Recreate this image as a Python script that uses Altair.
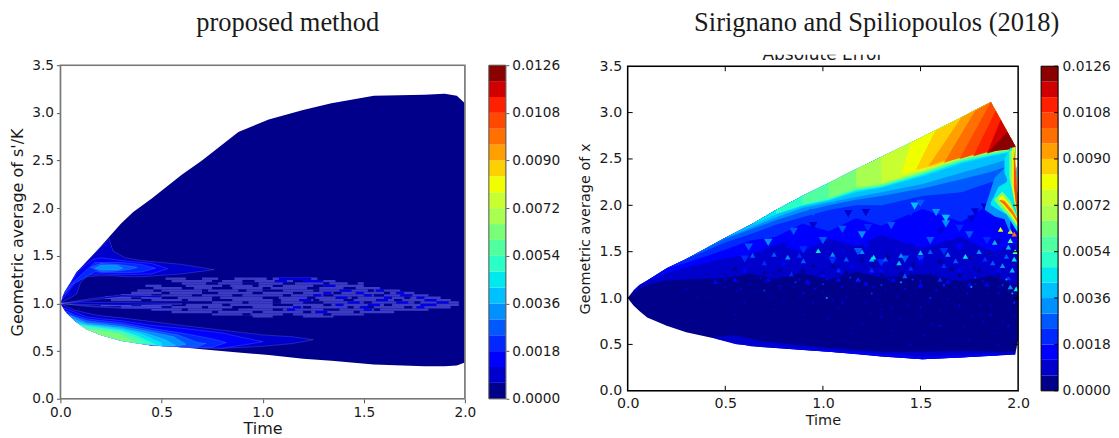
import altair as alt
import pandas as pd

# ---------- shared colour levels ----------
level_lo = [0.0000,0.0006,0.0012,0.0018,0.0024,0.0030,0.0036,0.0042,0.0048,0.0054,0.0060,
            0.0066,0.0072,0.0078,0.0084,0.0090,0.0096,0.0102,0.0108,0.0114,0.0120]
level_hi = [0.0006,0.0012,0.0018,0.0024,0.0030,0.0036,0.0042,0.0048,0.0054,0.0060,0.0066,
            0.0072,0.0078,0.0084,0.0090,0.0096,0.0102,0.0108,0.0114,0.0120,0.0126]
level_colors = ["#00008b","#0000cd","#0000ff","#0028ff","#0058ff","#0090ff","#00c0ff",
                "#00e8f0","#2bffc8","#50ffa0","#78ff78","#a8ff50","#c8ff30","#f0ff00",
                "#ffd000","#ffa000","#ff7000","#ff4800","#ff2000","#d00000","#8b0000"]
texture_color = "#3d3dc4"
bar_ticks = [0.0000,0.0018,0.0036,0.0054,0.0072,0.0090,0.0108,0.0126]
x_ticks = [0.0,0.5,1.0,1.5,2.0]
y_ticks = [0.0,0.5,1.0,1.5,2.0,2.5,3.0,3.5]

# ---------- left panel: outline and level regions (t, low, high) ----------
left_t  = [0,.02,.05,.08,.13,.2,.3,.36,.45,.6,.7,.88,1.03,1.2,1.34,1.55,1.8,1.9,1.96,2.0]
left_hi = [1,1.12,1.22,1.33,1.44,1.60,1.84,1.96,2.10,2.35,2.5,2.8,2.93,3.03,3.10,3.18,3.19,3.2,3.18,3.1]
left_lo = [1,.93,.86,.80,.73,.67,.61,.59,.56,.54,.52,.485,.46,.42,.40,.36,.34,.34,.35,.38]

left_low_wedge = [
 (1,[(0,1,1),(.03,.90,.97),(.07,.82,.93),(.13,.73,.90),(.2,.67,.87),(.3,.61,.85),(.45,.56,.81),(.6,.54,.77),(.8,.53,.72),(1.0,.55,.67),(1.15,.58,.65),(1.25,.62,.62)]),
 (2,[(.02,.93,.95),(.07,.82,.91),(.13,.73,.86),(.2,.67,.84),(.3,.61,.82),(.45,.56,.77),(.6,.54,.74),(.8,.53,.69),(.95,.58,.62),(1.0,.6,.6)]),
 (3,[(.03,.9,.92),(.07,.82,.88),(.13,.73,.84),(.2,.67,.82),(.3,.61,.80),(.45,.56,.74),(.6,.54,.69),(.75,.54,.63),(.82,.59,.59)]),
 (4,[(.04,.88,.89),(.07,.82,.86),(.13,.73,.82),(.2,.67,.80),(.3,.61,.78),(.45,.565,.72),(.58,.55,.67),(.68,.55,.59),(.72,.58,.58)]),
 (5,[(.05,.86,.87),(.13,.73,.80),(.2,.67,.785),(.3,.61,.76),(.45,.565,.70),(.56,.55,.65),(.62,.57,.575)]),
 (6,[(.06,.84,.84),(.13,.73,.785),(.2,.67,.77),(.3,.61,.745),(.42,.57,.69),(.52,.55,.62),(.57,.56,.56)]),
 (7,[(.08,.80,.80),(.13,.73,.775),(.2,.67,.76),(.3,.61,.73),(.4,.575,.68),(.5,.56,.585)]),
 (8,[(.09,.78,.78),(.13,.73,.765),(.2,.67,.745),(.3,.61,.715),(.38,.58,.66),(.47,.565,.57)]),
 (9,[(.11,.75,.76),(.2,.67,.73),(.3,.61,.70),(.38,.585,.63),(.42,.59,.59)]),
 (10,[(.13,.73,.73),(.2,.67,.715),(.3,.615,.675),(.36,.595,.6)]),
]
left_up_wedge = [
 (1,[(0,1,1),(.02,1.03,1.12),(.05,1.06,1.22),(.08,1.10,1.33),(.1,1.22,1.37),(.13,1.28,1.44),(.2,1.29,1.59),(.24,1.29,1.68),(.26,1.29,1.55),(.32,1.28,1.48),(.4,1.28,1.45),(.6,1.31,1.41),(.76,1.355,1.355)]),
 (2,[(.01,1.05,1.07),(.03,1.1,1.15),(.06,1.18,1.25),(.09,1.27,1.34),(.12,1.31,1.40),(.16,1.30,1.46),(.2,1.31,1.48),(.3,1.30,1.45),(.45,1.31,1.42),(.53,1.365,1.365)]),
 (3,[(.02,1.1,1.11),(.04,1.14,1.17),(.06,1.2,1.22),(.17,1.33,1.43),(.3,1.32,1.43),(.4,1.33,1.41),(.47,1.37,1.37)]),
 (4,[(.15,1.38,1.38),(.2,1.33,1.42),(.28,1.34,1.41),(.35,1.36,1.39),(.38,1.38,1.38)]),
 (5,[(.17,1.37,1.37),(.2,1.35,1.40),(.28,1.35,1.40),(.31,1.37,1.37)]),
]
left_fan = [
 (1,[(0,1,1),(.15,1.035,1.05),(.3,1.07,1.09),(.5,1.06,1.08)]),
 (1,[(0,1,1),(.15,.965,.975),(.3,.95,.96),(.55,.94,.95)]),
 (1,[(0,1,1),(.1,.99,1.015),(.3,.98,1.01),(.6,.99,1.0)]),
]
# texture rows: y centre, then spans of time
left_rows = [
 (1.26,[(.52,.62),(.70,.78),(.86,1.02),(1.05,1.27)]),
 (1.235,[(.55,.75),(.80,1.36)]),
 (1.21,[(.60,.90),(.98,1.42),(1.47,1.50)]),
 (1.185,[(.42,.50),(.62,1.05),(1.1,1.5)]),
 (1.16,[(.46,.75),(.85,1.22),(1.28,1.58)]),
 (1.135,[(.38,.46),(.5,1.0),(1.1,1.68)]),
 (1.11,[(.35,.7),(.78,1.15),(1.2,1.75)]),
 (1.085,[(.3,.65),(.7,1.3),(1.35,1.82)]),
 (1.06,[(.22,.5),(.58,1.0),(1.08,1.88)]),
 (1.035,[(.25,.75),(.85,1.4),(1.45,1.93)]),
 (1.01,[(.75,1.2),(1.3,1.97)]),
 (.985,[(.2,.55),(.62,1.05),(1.15,1.97)]),
 (.96,[(.3,.85),(.95,1.5),(1.55,1.93)]),
 (.935,[(.45,.8),(.88,1.3),(1.38,1.82)]),
 (.91,[(.55,.95),(1.0,1.65)]),
 (.885,[(.75,1.1),(1.15,1.5)]),
 (.865,[(.95,1.05),(1.2,1.35)]),
]
left_gap_rows = [
 (1.235,[(.9,.96),(1.15,1.2)]),(1.21,[(.72,.78),(1.1,1.16),(1.3,1.33)]),
 (1.185,[(.8,.84),(.95,.98),(1.25,1.3)]),(1.16,[(.6,.66),(1.0,1.04),(1.4,1.46)]),
 (1.135,[(.7,.73),(.88,.92),(1.25,1.28),(1.52,1.55)]),(1.11,[(.5,.54),(.95,1.0),(1.35,1.39),(1.6,1.63)]),
 (1.085,[(.45,.5),(.85,.9),(1.1,1.14),(1.55,1.6)]),(1.06,[(.35,.4),(.75,.79),(1.22,1.26),(1.44,1.47),(1.7,1.73)]),
 (1.035,[(.4,.45),(.6,.63),(1.05,1.09),(1.25,1.28),(1.65,1.69)]),(1.01,[(.9,.93),(1.05,1.09),(1.5,1.54),(1.75,1.78)]),
 (.985,[(.35,.4),(.8,.84),(1.3,1.34),(1.6,1.64)]),(.96,[(.5,.55),(.7,.73),(1.2,1.24),(1.42,1.45),(1.7,1.74)]),
 (.935,[(.6,.63),(1.05,1.1),(1.55,1.58)]),(.91,[(.75,.78),(1.2,1.24),(1.45,1.48)]),(.885,[(.9,.94),(1.3,1.34)]),
]
left_blue_rows = [
 (1.26,[(1.08,1.24)]),(1.235,[(1.06,1.12),(1.2,1.3)]),(1.185,[(1.3,1.36)]),
 (1.135,[(1.38,1.44),(1.56,1.6)]),(1.11,[(1.3,1.34),(1.46,1.5),(1.66,1.7)]),
 (1.085,[(1.25,1.29),(1.5,1.54),(1.68,1.74)]),(1.06,[(1.36,1.42),(1.6,1.64),(1.76,1.8)]),
 (1.035,[(1.18,1.24),(1.56,1.62),(1.8,1.86)]),(1.01,[(1.42,1.48),(1.66,1.72),(1.86,1.92)]),
 (.985,[(1.36,1.4),(1.52,1.58),(1.78,1.86)]),(.96,[(1.15,1.19),(1.48,1.52),(1.76,1.8)]),
 (.935,[(1.12,1.16),(1.5,1.54)]),(.91,[(1.26,1.32)]),
]

# ---------- right panel: outline and level curves ----------
right_t  = [0,.03,.06,.1,.2,.3,.5,.63,.76,.895,1.03,1.17,1.3,1.51,1.71,1.86,1.985,2.0]
right_hi = [1,1.08,1.14,1.19,1.32,1.42,1.65,1.79,1.95,2.10,2.24,2.39,2.52,2.74,2.95,3.115,2.64,1.85]
right_lo = [1,.92,.86,.79,.70,.63,.54,.48,.46,.44,.42,.40,.37,.34,.36,.38,.39,.55]
# level, first station index, lower boundary from that station on
right_curves = [
 (1,1,[1.06,1.10,1.14,1.19,1.20,1.22,1.26,1.21,1.27,1.20,1.28,1.22,1.26,1.18,1.24,1.15,1.10]),
 (2,3,[1.19,1.27,1.33,1.43,1.47,1.58,1.50,1.64,1.56,1.68,1.54,1.66,1.50,1.58,1.45]),
 (3,4,[1.32,1.38,1.52,1.62,1.66,1.80,1.72,1.86,1.78,1.96,1.82,2.02,1.80,1.85]),
 (4,5,[1.42,1.60,1.69,1.79,1.87,1.95,2.0,2.0,2.10,2.14,2.25,2.30,1.85]),
 (5,5,[1.42,1.64,1.74,1.84,1.93,2.0,2.06,2.10,2.18,2.28,2.36,2.45,1.85]),
 (6,6,[1.65,1.76,1.87,1.97,2.03,2.09,2.14,2.23,2.35,2.44,2.52,1.85]),
]
right_top_curves = [
 (7,7,[1.79,1.90,1.99,2.05,2.14,2.19,2.31,2.45,2.53,2.58,1.85]),
 (8,8,[1.91,2.0,2.06,2.16,2.20,2.33,2.47,2.54,2.59]),
 (9,9,[2.01,2.07,2.17,2.21,2.34,2.48,2.55,2.60]),
 (10,10,[2.08,2.18,2.22,2.35,2.49,2.56,2.605]),
 (11,11,[2.19,2.23,2.36,2.50,2.57,2.61]),
 (12,12,[2.24,2.37,2.51,2.58,2.615]),
]
right_wedge = [
 (13,[(1.40,2.33,2.33),(1.45,2.36,2.67),(1.51,2.39,2.74),(1.71,2.52,2.95),(1.86,2.59,3.115),(1.985,2.62,2.64)]),
 (14,[(1.475,2.38,2.38),(1.575,2.43,2.80),(1.71,2.53,2.95),(1.86,2.6,3.115),(1.985,2.62,2.64)]),
 (15,[(1.54,2.42,2.42),(1.71,2.55,2.95),(1.86,2.61,3.115),(1.985,2.625,2.64)]),
 (16,[(1.62,2.46,2.46),(1.78,2.56,3.02),(1.86,2.62,3.115),(1.985,2.63,2.64)]),
 (17,[(1.70,2.5,2.5),(1.86,2.6,3.115),(1.985,2.63,2.64)]),
 (18,[(1.77,2.53,2.53),(1.885,2.6,3.02),(1.985,2.63,2.64)]),
 (19,[(1.84,2.56,2.56),(1.91,2.6,2.92),(1.985,2.63,2.64)]),
 (20,[(1.85,2.58,2.58),(1.945,2.6,2.79),(1.985,2.62,2.64)]),
]
right_edge = [
 (5,[(1.83,1.95,1.97),(1.88,1.88,2.3),(1.93,1.85,2.4),(1.96,1.7,2.35)]),
 (7,[(1.86,2.0,2.03),(1.9,1.95,2.2),(1.94,1.9,2.25),(1.97,1.8,2.45),(2.0,1.7,1.85)]),
 (7,[(1.93,2.35,2.5),(1.96,2.2,2.62),(1.985,2.1,2.62)]),
 (10,[(1.88,2.05,2.07),(1.92,1.95,2.15),(1.96,1.87,2.05),(2.0,1.75,1.85)]),
 (10,[(1.955,2.3,2.58),(1.985,2.0,2.62),(2.0,1.85,1.85)]),
 (13,[(1.9,2.06,2.08),(1.92,2.0,2.11),(1.96,1.9,2.0),(2.0,1.78,1.85)]),
 (13,[(1.97,2.2,2.62),(1.985,2.0,2.63),(2.0,1.85,1.85)]),
 (16,[(1.905,2.05,2.06),(1.93,2.0,2.05),(1.97,1.9,1.95),(2.0,1.8,1.84)]),
 (17,[(1.978,2.2,2.62),(1.992,1.95,2.3),(2.0,1.85,1.85)]),
 (1,[(.45,.56,.58),(.55,.505,.6),(.7,.47,.53),(1.03,.42,.46),(1.3,.37,.42),(1.51,.34,.42),(1.71,.36,.43),(1.9,.38,.42),(1.985,.39,.42)]),
 (2,[(.55,.505,.51),(1.03,.42,.435),(1.51,.34,.37),(1.9,.38,.395)]),
]
# speckles: level -> points, split by patch class
big_patches = {
 1:[(1.13,1.91),(1.3,1.6),(1.09,1.55),(1.45,1.55),(.95,1.78),(1.78,1.93),(1.22,1.92),(1.64,1.58),(.8,1.56),
    (1.76,1.85),(1.83,1.98),(1.0,1.45),(1.35,1.5),(1.6,1.72),(.72,1.42),(1.9,1.6),(1.16,1.4),(1.52,1.36),(1.75,1.38),(.88,1.36)],
 2:[(.98,1.7),(1.42,1.72),(1.7,1.55),(1.22,1.56),(.68,1.52),(1.58,1.75),(1.88,1.75)],
 3:[(1.45,1.92),(1.1,1.83),(1.7,1.75),(.6,1.42),(1.23,1.76),(.9,1.52),(1.5,1.42),(1.05,1.4),(1.3,1.38),(1.62,1.5),(1.84,1.62)],
 4:[(1.1,1.74),(.85,1.72),(1.35,1.78),(1.0,1.62),(1.55,1.62),(1.75,1.68),(.62,1.55),(1.5,2.02),(.95,1.92),(1.18,1.5),(1.42,1.42)],
 5:[(1.63,1.8),(1.2,1.68),(.72,1.6),(1.58,1.92)],
 6:[(1.63,1.86),(1.47,1.99)],
}
small_patches = {
 0:[(1.05,1.35),(1.2,1.42),(1.4,1.28),(1.6,1.4),(1.8,1.3),(.9,1.3),(.7,1.28),(.55,1.32),(1.55,1.25),(1.85,1.5),(1.0,1.28),(1.3,1.25),(1.7,1.25),
    (.62,1.26),(.78,1.3),(.95,1.36),(1.12,1.28),(1.26,1.36),(1.46,1.36),(1.66,1.32),(1.9,1.25),(1.76,1.44),(1.33,1.46)],
 2:[(.45,1.18),(.6,1.3),(.8,1.38),(1.0,1.25),(1.15,1.35),(1.3,1.3),(1.5,1.4),(1.7,1.3),(1.9,1.3),(1.75,1.15),
    (.55,1.2),(.72,1.2),(.92,1.18),(1.08,1.2),(1.22,1.16),(1.36,1.2),(1.5,1.14),(1.64,1.18),(1.84,1.15)],
 3:[(.7,1.38),(.88,1.46),(1.08,1.3),(1.25,1.3),(1.45,1.32),(1.62,1.35),(1.83,1.42),(1.95,1.22),(1.6,1.2),(1.18,1.2),(.84,1.26)],
 4:[(.64,1.46),(.75,1.47),(.9,1.4),(1.12,1.42),(1.32,1.42),(1.55,1.5),(1.68,1.4),(1.87,1.38),(1.94,1.45),(1.42,1.24)],
 5:[(.82,1.44),(1.05,1.47),(1.2,1.5),(1.4,1.46),(1.64,1.47),(1.8,1.5),(1.92,1.35),(1.96,1.12)],
 6:[(1.5,1.49),(1.39,1.38),(1.25,1.42),(1.95,1.55),(1.97,1.3),(1.88,1.6)],
 7:[(1.73,1.45),(.976,1.51),(1.26,1.44),(1.98,1.42),(1.99,1.1)],
 9:[(1.96,1.62),(1.985,1.5)],
 13:[(1.91,1.74),(1.96,1.72)],
 16:[(1.98,1.69)],
}
tiny_patches = {
 0:[(.5,1.26),(.62,1.24),(.75,1.27),(.85,1.25),(.95,1.24),(1.07,1.26),(1.2,1.25),(1.33,1.27),(1.45,1.25),(1.58,1.26),(1.72,1.27),(1.85,1.25),(1.95,1.24),
    (.4,1.25),(.68,1.31),(.82,1.3),(1.12,1.29),(1.38,1.32),(1.65,1.31),(1.78,1.33),(1.92,1.31)],
 1:[(.3,1.1),(.42,1.02),(.5,1.12),(.6,.95),(.65,1.06),(.7,1.18),(.75,.88),(.8,1.0),(.85,1.12),(.9,.82),(.95,.95),(1.0,1.07),
    (1.03,.78),(1.08,.9),(1.12,1.02),(1.16,1.15),(1.2,.72),(1.24,.84),(1.28,.98),(1.32,1.09),(1.36,.65),(1.4,.78),(1.44,.92),
    (1.48,1.05),(1.52,.6),(1.56,.72),(1.6,.86),(1.64,.99),(1.68,1.11),(1.72,.68),(1.76,.8),(1.8,.93),(1.84,1.05),(1.88,.62),
    (1.92,.75),(1.95,.88),(1.97,1.0),(.55,.82),(1.15,.62),(1.35,.9),(1.75,.55),(1.9,.5),(1.45,.5),(1.1,.55),
    (.36,1.0),(.47,1.16),(.56,1.07),(.63,1.15),(.73,1.02),(.78,1.1),(.88,1.02),(.93,1.15),(1.05,.98),(1.18,1.05),(1.22,.95),
    (1.3,.88),(1.38,1.02),(1.42,1.15),(1.5,.8),(1.54,.95),(1.62,1.12),(1.7,1.02),(1.78,1.15),(1.82,.75),(1.86,.92),(1.9,1.12),(1.98,.8)],
 2:[(.5,1.2),(.58,1.1),(.68,1.22),(.78,1.13),(.88,1.2),(.96,1.1),(1.02,1.2),(1.1,1.12),(1.18,1.18),(1.26,1.12),(1.34,1.2),
    (1.42,1.1),(1.5,1.18),(1.58,1.08),(1.66,1.2),(1.74,1.05),(1.82,1.18),(1.9,1.05),(1.96,1.15),(1.1,.95),(1.3,.8),(1.5,.9),
    (1.7,.92),(1.86,.82),(1.95,.7),(1.6,.7),(.9,1.05)],
 3:[(.7,1.08),(.86,1.17),(1.0,1.15),(1.14,1.22),(1.3,1.14),(1.46,1.2),(1.62,1.14),(1.78,1.22),(1.92,1.14),(1.98,.95),(1.25,1.05),(1.55,1.0)],
 5:[(1.02,1.0),(1.4,1.17),(1.76,1.12),(1.97,1.05),(1.94,1.2)],
}

# ---------- helpers that turn the lists above into tables ----------
def bands(groups, start=0):
    rows = []
    for i, (level, pts) in enumerate(groups):
        for t, lo, hi in pts:
            rows.append({"band": start + i, "t": t, "lo": lo, "hi": hi, "level": level})
    return pd.DataFrame(rows)

def curves(groups):
    out = []
    for level, first, lows in groups:
        out.append((level, list(zip(right_t[first:], lows, right_hi[first:]))))
    return out

def spans(groups, half):
    return pd.DataFrame([{"t": a, "t2": b, "lo": y - half, "hi": y + half}
                         for y, parts in groups for a, b in parts])

def dots(groups):
    return pd.DataFrame([{"t": t, "y": y, "level": k} for k, pts in groups.items() for t, y in pts])

color_scale = alt.Scale(domain=list(range(21)), range=level_colors)
color = alt.Color("level:O", scale=color_scale, legend=None)
x_dom = alt.Scale(domain=[0, 2], nice=False)
y_dom = alt.Scale(domain=[0, 3.5], nice=False)
TXT = "#1a1a1a"

def xy_axes(tick_size, tick_color, label_size, title_size, tick_pad, ytitle, title_pad_x, title_pad_y):
    common = dict(format=".1f", grid=False, domain=False, tickSize=tick_size, tickColor=tick_color,
                  labelFontSize=label_size, labelColor=TXT, labelFont="DejaVu Sans", labelPadding=tick_pad,
                  labelFlush=False, labelOverlap=False, titleFontSize=title_size, titleFont="DejaVu Sans",
                  titleFontWeight="normal", titleColor=TXT)
    xa = alt.Axis(values=x_ticks, title="Time", titlePadding=title_pad_x, **common)
    ya = alt.Axis(values=y_ticks, title=ytitle, titlePadding=title_pad_y, **common)
    return xa, ya

def area_layer(df, xa, ya, **mark):
    return alt.Chart(df).mark_area(orient="vertical", **mark).encode(
        x=alt.X("t:Q", scale=x_dom, axis=xa),
        y=alt.Y("lo:Q", scale=y_dom, axis=ya),
        y2="hi:Q",
        color=color,
        detail="band:N",
    )

def rect_layer(df, fill, xa, ya):
    return alt.Chart(df).mark_rect(color=fill).encode(
        x=alt.X("t:Q", scale=x_dom, axis=xa), x2="t2:Q",
        y=alt.Y("lo:Q", scale=y_dom, axis=ya), y2="hi:Q")

def frame(w, h, stroke, width):
    return alt.Chart(pd.DataFrame({"a": [0]})).mark_rect(fillOpacity=0, stroke=stroke, strokeWidth=width).encode(
        x=alt.value(0), x2=alt.value(w), y=alt.value(0), y2=alt.value(h))

def colorbar(w, h, label_size, stroke, tick_color, tick_size, inner):
    df = pd.DataFrame({"lo": level_lo, "hi": level_hi, "level": list(range(21))})
    ax = alt.Axis(orient="right", values=bar_ticks, format=".4f", title=None, grid=False, domain=False,
                  tickSize=0 if inner else tick_size, tickColor=tick_color, labelFontSize=label_size,
                  labelColor=TXT, labelFont="DejaVu Sans", labelPadding=3 if not inner else 4,
                  labelFlush=False, labelOverlap=False)
    y_s = alt.Scale(domain=[0, 0.0126], nice=False)
    bars = alt.Chart(df).mark_rect().encode(
        x=alt.value(0), x2=alt.value(w), y=alt.Y("lo:Q", scale=y_s, axis=ax), y2="hi:Q", color=color)
    layers = [bars, frame(w, h, stroke, 1)]
    if inner:
        ticks = alt.Chart(pd.DataFrame({"v": bar_ticks})).mark_rule(color=tick_color, strokeWidth=1).encode(
            y=alt.Y("v:Q", scale=y_s, axis=ax), x=alt.value(w - 4), x2=alt.value(w))
        layers.insert(1, ticks)
    return alt.layer(*layers).properties(width=w, height=h)

# ---------- left panel ----------
LW, LH = 405, 334
xa, ya = xy_axes(4, "#555555", 13.7, 16, 3, "Geometric average of s'/K", 1, 6)
L_base = bands([(0, list(zip(left_t, left_lo, left_hi)))])
L_patch = bands(left_up_wedge + left_low_wedge + left_fan, start=1)
left_plot = alt.layer(
    area_layer(L_base, xa, ya),
    rect_layer(spans(left_rows, 0.0125), texture_color, xa, ya),
    rect_layer(spans(left_gap_rows, 0.0125), level_colors[0], xa, ya),
    rect_layer(spans(left_blue_rows, 0.0125), "#0000e0", xa, ya),
    area_layer(L_patch, xa, ya, stroke="#b8c8ff", strokeWidth=0.5, strokeOpacity=0.35),
    frame(LW, LH, "#777777", 1.6),
).properties(width=LW, height=LH)

left_bar = colorbar(17, LH, 13.7, "#555555", "#555555", 3, False)

# ---------- right panel ----------
RW, RH = 391, 325
xb, yb = xy_axes(0, "#000000", 14.2, 14.5, 6, "Geometric average of x", 3, 7)
R_base = bands([(0, list(zip(right_t, right_lo, right_hi)))])
R_low = bands(curves(right_curves), start=1)
R_top = bands(curves(right_top_curves) + right_wedge + right_edge, start=50)

def speckles(groups, size, shape):
    return alt.Chart(dots(groups)).mark_point(filled=True, opacity=1, shape=shape, size=size).encode(
        x=alt.X("t:Q", scale=x_dom, axis=xb), y=alt.Y("y:Q", scale=y_dom, axis=yb), color=color)

tick_rows_x = pd.DataFrame({"v": x_ticks[1:-1]})
tick_rows_y = pd.DataFrame({"v": y_ticks[1:-1]})
def x_tick(y0, y1):
    return alt.Chart(tick_rows_x).mark_rule(color="#000000", strokeWidth=1).encode(
        x=alt.X("v:Q", scale=x_dom, axis=xb), y=alt.value(y0), y2=alt.value(y1))
def y_tick(x0, x1):
    return alt.Chart(tick_rows_y).mark_rule(color="#000000", strokeWidth=1).encode(
        y=alt.Y("v:Q", scale=y_dom, axis=yb), x=alt.value(x0), x2=alt.value(x1))

clipped_title = ["Absolute Error"]
ghost_text = alt.Chart(pd.DataFrame({"s": clipped_title})).mark_text(
    font="DejaVu Sans", fontSize=17, align="center", baseline="alphabetic", color=TXT
).encode(x=alt.value(RW * 0.5), y=alt.value(-6.5), text="s:N")
ghost_mask = alt.Chart(pd.DataFrame({"a": [0]})).mark_rect(color="white").encode(
    x=alt.value(RW * 0.5 - 90), x2=alt.value(RW * 0.5 + 90), y=alt.value(-26), y2=alt.value(-11.5))

right_plot = alt.layer(
    area_layer(R_base, xb, yb),
    area_layer(R_low, xb, yb),
    speckles(big_patches, 70, "triangle-down"),
    speckles(small_patches, 30, "triangle-up"),
    speckles(tiny_patches, 7, "diamond"),
    area_layer(R_top, xb, yb),
    x_tick(RH, RH - 5), x_tick(0, 5), y_tick(0, 5), y_tick(RW, RW - 5),
    ghost_text, ghost_mask,
    frame(RW, RH, "#000000", 1.5),
).properties(width=RW, height=RH)

right_bar = colorbar(17, RH, 13.8, "#000000", "#000000", 4, True)

title_font = dict(font="Liberation Serif", fontSize=26.5, fontWeight="normal", color=TXT, anchor="middle")
left_group = alt.hconcat(left_plot, left_bar, spacing=11).properties(
    title=alt.TitleParams("proposed method", offset=21, dx=3, **title_font))
spacer = alt.Chart(pd.DataFrame({"a": [0]})).mark_rect(opacity=0).encode(
    x=alt.value(0), x2=alt.value(1), y=alt.value(0), y2=alt.value(1)).properties(width=1, height=1)
right_group = alt.vconcat(spacer, alt.hconcat(right_plot, right_bar, spacing=10), spacing=0, bounds="flush").properties(
    title=alt.TitleParams("Sirignano and Spiliopoulos (2018)", offset=3, dx=33, **title_font))

chart = alt.hconcat(left_group, right_group, spacing=15).properties(
    padding={"left": 0.5, "top": 2, "right": 0, "bottom": 0}
).configure_view(stroke=None).configure(background="white")

chart.save("out.html", embed_options={"renderer": "svg", "actions": False})
